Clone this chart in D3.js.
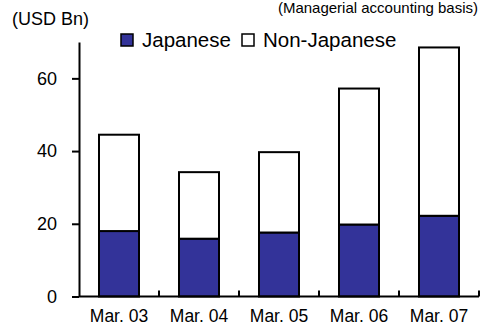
<!DOCTYPE html>
<html>
<head>
<meta charset="utf-8">
<script src="https://cdn.jsdelivr.net/npm/d3@7"></script>
<style>
  html, body { margin: 0; padding: 0; background: #fff; }
  svg { display: block; font-family: "Liberation Sans", Arial, sans-serif; }
</style>
</head>
<body>
<svg id="chart" width="480" height="326"></svg>
<script>
// Fiscal year-ends
const categories = ["Mar. 03", "Mar. 04", "Mar. 05", "Mar. 06", "Mar. 07"];
// Assets by client type, USD Bn
const japanese    = [18.0, 15.9, 17.6, 19.8, 22.2];
const nonJapanese = [26.5, 18.3, 22.1, 37.4, 46.3];
const yTicks = [0, 20, 40, 60];
const seriesNames = ["Japanese", "Non-Japanese"];
const seriesColors = ["#333399", "#ffffff"];

const svg = d3.select("#chart");

const x = d3.scaleBand()
  .domain(categories)
  .range([79, 479])
  .paddingInner(0.5)
  .paddingOuter(0.25);

const y = d3.scaleLinear()
  .domain([0, 70])
  .range([296.5, 42]);

// Stack the two series
const rows = categories.map((c, i) => ({ cat: c, Japanese: japanese[i], "Non-Japanese": nonJapanese[i] }));
const stacked = d3.stack().keys(seriesNames)(rows);

svg.append("g")
  .selectAll("g")
  .data(stacked)
  .join("g")
  .attr("fill", (d, i) => seriesColors[i])
  .selectAll("rect")
  .data(d => d)
  .join("rect")
  .attr("x", d => x(d.data.cat))
  .attr("width", x.bandwidth())
  .attr("y", d => y(d[1]))
  .attr("height", d => y(d[0]) - y(d[1]))
  .attr("stroke", "#000")
  .attr("stroke-width", 2);

// Y axis
const yAxis = svg.append("g")
  .attr("transform", "translate(79,0)")
  .call(d3.axisLeft(y).tickValues(yTicks).tickSize(7).tickSizeOuter(0).tickPadding(15));
yAxis.select(".domain").attr("stroke-width", 2);
yAxis.selectAll(".tick line").attr("stroke-width", 2);
yAxis.selectAll(".tick text")
  .attr("font-size", 18)
  .attr("fill", "#000")
  .attr("font-family", "Liberation Sans, Arial, sans-serif");

// X axis with separators between categories
const boundaries = categories.map(c => x(c) + x.bandwidth() + x.step() * x.paddingInner() / 2);
const xAxis = svg.append("g");
xAxis.append("line")
  .attr("x1", x.range()[0]).attr("x2", x.range()[1])
  .attr("y1", y(0)).attr("y2", y(0))
  .attr("stroke", "#000").attr("stroke-width", 2);
xAxis.selectAll("line.sep")
  .data(boundaries)
  .join("line")
  .attr("class", "sep")
  .attr("x1", d => d).attr("x2", d => d)
  .attr("y1", y(0)).attr("y2", y(0) - 6)
  .attr("stroke", "#000").attr("stroke-width", 2);
xAxis.selectAll("text")
  .data(categories)
  .join("text")
  .attr("x", d => x(d) + x.bandwidth() / 2)
  .attr("y", 321.5)
  .attr("text-anchor", "middle")
  .attr("font-size", 17.5)
  .text(d => d);

// Unit label and subtitle
svg.append("text")
  .attr("x", 12).attr("y", 25)
  .attr("font-size", 18)
  .text("(USD Bn)");
svg.append("text")
  .attr("x", 478).attr("y", 13)
  .attr("text-anchor", "end")
  .attr("font-size", 15)
  .text("(Managerial accounting basis)");

// Legend
const legendX = [121, 242];
const legend = svg.append("g")
  .selectAll("g")
  .data(seriesNames)
  .join("g")
  .attr("transform", (d, i) => `translate(${legendX[i]},34)`);
legend.append("rect")
  .attr("width", 12).attr("height", 12)
  .attr("fill", (d, i) => seriesColors[i])
  .attr("stroke", "#000").attr("stroke-width", 1.5);
legend.append("text")
  .attr("x", 21).attr("y", 12.5)
  .attr("font-size", 20.5)
  .text(d => d);
</script>
</body>
</html>
